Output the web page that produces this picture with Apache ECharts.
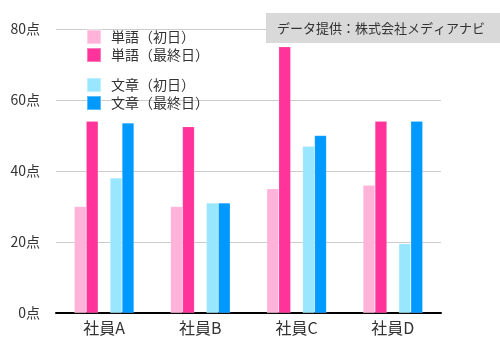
<!DOCTYPE html>
<html>
<head>
<meta charset="utf-8">
<script src="https://cdn.jsdelivr.net/npm/echarts@6/dist/echarts.min.js"></script>
<style>
html,body{margin:0;padding:0;background:#fff;}
#c{width:500px;height:346px;}
</style>
</head>
<body>
<div id="c"></div>
<script>
var categories = ['社員A', '社員B', '社員C', '社員D'];
var wordFirst = [30, 30, 35, 36];
var wordLast = [54, 52.5, 75, 54];
var textFirst = [38, 31, 47, 19.5];
var textLast = [53.5, 31, 50, 54];
var yTicks = [0, 20, 40, 60, 80];
var seriesNames = ['単語（初日）', '単語（最終日）', '文章（初日）', '文章（最終日）'];
var sourceText = 'データ提供：株式会社メディアナビ';

var FONT = '"Noto Sans CJK JP", sans-serif';
var colors = ['#ffb3d9', '#ff3399', '#99e6ff', '#0099ff'];

var chart = echarts.init(document.getElementById('c'), null, {renderer: 'canvas'});

function barSeries(name, data, color) {
  return {
    name: name, type: 'bar', data: data,
    barGap: '0%', barCategoryGap: '38%',
    itemStyle: {color: color, borderColor: 'rgba(255,255,255,0.35)', borderWidth: 0.5},
    emphasis: {disabled: true}
  };
}

var legendCommon = {
  orient: 'vertical', left: 86, itemWidth: 14, itemHeight: 14, itemGap: 2, padding: 0,
  textStyle: {fontFamily: FONT, fontSize: 14, color: '#333', lineHeight: 14, padding: [0, 0, 0, 5]},
  selectedMode: false, icon: 'rect'
};

chart.setOption({
  animation: false,
  textStyle: {fontFamily: FONT},
  title: {
    text: sourceText, right: 0, top: 13,
    backgroundColor: '#d9d9d9',
    padding: [9, 15, 8, 11],
    textStyle: {fontFamily: FONT, fontSize: 13, fontWeight: 'normal', color: '#333'}
  },
  legend: [
    Object.assign({top: 29, data: [seriesNames[0], seriesNames[1]]}, legendCommon),
    Object.assign({top: 77, data: [seriesNames[2], seriesNames[3]]}, legendCommon)
  ],
  grid: {left: 56, right: 59, top: 29, bottom: 33, containLabel: false},
  xAxis: {
    type: 'category', data: categories,
    axisLine: {lineStyle: {color: '#000', width: 2}},
    axisTick: {show: false},
    axisLabel: {fontFamily: FONT, fontSize: 16, color: '#333', margin: 7}
  },
  yAxis: {
    type: 'value', min: yTicks[0], max: yTicks[yTicks.length - 1], interval: 20,
    axisLine: {show: false}, axisTick: {show: false},
    splitLine: {lineStyle: {color: '#cccccc', width: 1}},
    axisLabel: {fontFamily: FONT, fontSize: 14, color: '#333', margin: 16,
      formatter: function (v) { return v + '点'; }}
  },
  series: [
    barSeries(seriesNames[0], wordFirst, colors[0]),
    barSeries(seriesNames[1], wordLast, colors[1]),
    {name: 'spacer', type: 'bar', data: categories.map(function () { return '-'; }), barGap: '0%', barCategoryGap: '38%', silent: true},
    barSeries(seriesNames[2], textFirst, colors[2]),
    barSeries(seriesNames[3], textLast, colors[3])
  ]
});
</script>
</body>
</html>
